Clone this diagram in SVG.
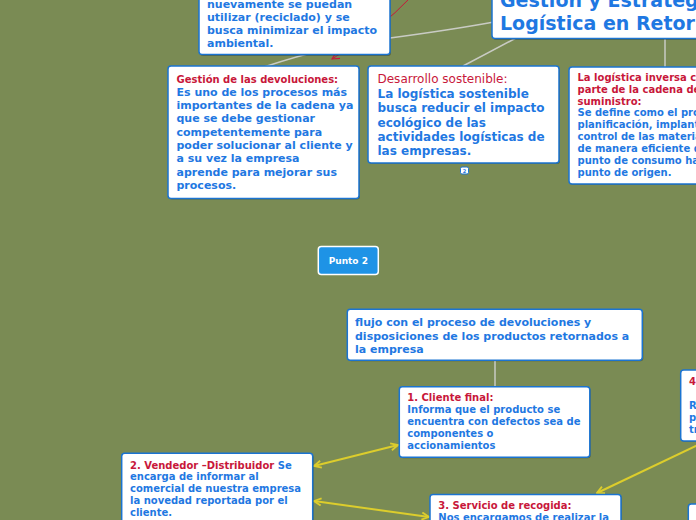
<svg xmlns="http://www.w3.org/2000/svg" width="696" height="520" viewBox="0 0 696 520">
<defs>
<style>
.bg{fill:#7a8b54}
.box{fill:#ffffff;stroke:#1b74d1;stroke-width:1.5}
.sh{fill:#000;opacity:.28}
.t{font-family:"DejaVu Sans",Verdana,sans-serif;font-weight:bold;font-size:11px;fill:#1f78e2}
.s{font-size:10px}
.r{fill:#c8173a}
.grey{fill:none;stroke:#c9cbc4;stroke-width:1.5}
.yel{fill:none;stroke:#dccd2c;stroke-width:2}
.red{fill:none;stroke:#c8173a;stroke-width:1}
</style>
<marker id="ay" viewBox="0 0 10 10" refX="9" refY="5" markerWidth="9" markerHeight="9" markerUnits="userSpaceOnUse" orient="auto-start-reverse">
<path d="M1,1 L9,5 L1,9" fill="none" stroke="#dccd2c" stroke-width="2"/>
</marker>
<marker id="ar" viewBox="0 0 10 10" refX="9" refY="5" markerWidth="9" markerHeight="9" markerUnits="userSpaceOnUse" orient="auto">
<path d="M1,1 L9,5 L1,9" fill="none" stroke="#c8173a" stroke-width="1.2"/>
</marker>
</defs>
<rect class="bg" x="0" y="0" width="696" height="520"/>

<g id="connectors">
<path class="grey" d="M264,67 Q330,45 390,38 Q450,30 494,22"/>
<path class="grey" d="M463,66 Q490,52 516,38"/>
<path class="grey" d="M665,38 L665,67"/>
<path class="grey" d="M495,361 L495,387"/>
<path class="red" d="M412,-4 Q380,30 332,59" marker-end="url(#ar)"/>
<path class="yel" d="M314,466 L398,445" marker-start="url(#ay)" marker-end="url(#ay)"/>
<path class="yel" d="M314,501 L429,517" marker-start="url(#ay)" marker-end="url(#ay)"/>
<path class="yel" d="M698,445 L597,493" marker-end="url(#ay)"/>
</g>

<g id="node-reciclado">
<rect class="sh" x="200" y="-10" width="191" height="66" rx="3"/>
<rect class="box" x="199" y="-11" width="191" height="65.5" rx="3"/>
<text class="t" x="207" y="8">nuevamente se puedan</text>
<text class="t" x="207" y="21">utilizar (reciclado) y se</text>
<text class="t" x="207" y="34">busca minimizar el impacto</text>
<text class="t" x="207" y="47">ambiental.</text>
</g>

<g id="node-title">
<rect class="sh" x="493" y="-10" width="210" height="50" rx="3"/>
<rect class="box" x="492" y="-11" width="210" height="49.5" rx="3"/>
<text class="t" x="500" y="7" style="font-size:19px">Gestión y Estrateg</text>
<text class="t" x="500" y="30" style="font-size:19px">Logística en Retorn</text>
</g>

<g id="node-gestion">
<rect class="sh" x="169" y="67" width="191" height="132.5" rx="3"/>
<rect class="box" x="168" y="66" width="191" height="132.5" rx="3"/>
<text class="t s r" x="176.5" y="82.5">Gestión de las devoluciones:</text>
<text class="t" x="176.5" y="95.8">Es uno de los procesos más</text>
<text class="t" x="176.5" y="109.1">importantes de la cadena ya</text>
<text class="t" x="176.5" y="122.4">que se debe gestionar</text>
<text class="t" x="176.5" y="135.7">competentemente para</text>
<text class="t" x="176.5" y="149">poder solucionar al cliente y</text>
<text class="t" x="176.5" y="162.3">a su vez la empresa</text>
<text class="t" x="176.5" y="175.6">aprende para mejorar sus</text>
<text class="t" x="176.5" y="188.9">procesos.</text>
</g>

<g id="node-desarrollo">
<rect class="sh" x="369" y="67" width="191" height="97" rx="3"/>
<rect class="box" x="368" y="66" width="191" height="97" rx="3"/>
<text class="t r" x="377.5" y="83.3" style="font-weight:normal;font-size:12px">Desarrollo sostenible:</text>
<text class="t" x="377.5" y="97.7" style="font-size:12px">La logística sostenible</text>
<text class="t" x="377.5" y="112.1" style="font-size:12px">busca reducir el impacto</text>
<text class="t" x="377.5" y="126.5" style="font-size:12px">ecológico de las</text>
<text class="t" x="377.5" y="140.9" style="font-size:12px">actividades logísticas de</text>
<text class="t" x="377.5" y="155.3" style="font-size:12px">las empresas.</text>
</g>

<g id="badge-2">
<rect x="460.5" y="167" width="8" height="7" rx="1.5" fill="#fff" stroke="#1b74d1" stroke-width="1"/>
<text x="464.5" y="172.6" text-anchor="middle" style="font-family:'DejaVu Sans',sans-serif;font-weight:bold;font-size:5px;fill:#1f78e2">2</text>
</g>

<g id="node-inversa">
<rect class="sh" x="570" y="68" width="140" height="117" rx="3"/>
<rect class="box" x="569" y="67" width="140" height="117" rx="3"/>
<text class="t s r" x="577.5" y="80.7">La logística inversa c</text>
<text class="t s r" x="577.5" y="92.6">parte de la cadena de</text>
<text class="t s r" x="577.5" y="104.5">suministro:</text>
<text class="t s" x="577.5" y="116.4">Se define como el pro</text>
<text class="t s" x="577.5" y="128.3">planificación, implant</text>
<text class="t s" x="577.5" y="140.2">control de las materia</text>
<text class="t s" x="577.5" y="152.1">de manera eficiente d</text>
<text class="t s" x="577.5" y="164">punto de consumo ha</text>
<text class="t s" x="577.5" y="175.9">punto de origen.</text>
</g>

<g id="node-punto2">
<rect x="318.3" y="246.5" width="60" height="28" rx="3" fill="#1e93e6" stroke="#ffffff" stroke-width="1.5"/>
<text x="348.3" y="264.3" text-anchor="middle" style="font-family:'DejaVu Sans',sans-serif;font-weight:bold;font-size:9px;fill:#ffffff">Punto 2</text>
</g>

<g id="node-flujo">
<rect class="sh" x="348.3" y="310.3" width="295" height="51" rx="3"/>
<rect class="box" x="347.3" y="309.3" width="295" height="51" rx="3"/>
<text class="t" x="355" y="326">flujo con el proceso de devoluciones y</text>
<text class="t" x="355" y="339.6">disposiciones de los productos retornados a</text>
<text class="t" x="355" y="353.2">la empresa</text>
</g>

<g id="node-cliente">
<rect class="sh" x="400.3" y="387.7" width="190.5" height="70.5" rx="3"/>
<rect class="box" x="399.3" y="386.7" width="190.5" height="70.5" rx="3"/>
<text class="t s r" x="407.3" y="400.7">1. Cliente final:</text>
<text class="t s" x="407.3" y="412.7">Informa que el producto se</text>
<text class="t s" x="407.3" y="424.7">encuentra con defectos sea de</text>
<text class="t s" x="407.3" y="436.7">componentes o</text>
<text class="t s" x="407.3" y="448.7">accionamientos</text>
</g>

<g id="node-vendedor">
<rect class="sh" x="122.7" y="454.3" width="191" height="80" rx="3"/>
<rect class="box" x="121.7" y="453.3" width="191" height="80" rx="3"/>
<text class="t s" x="130" y="468.5"><tspan class="r">2. Vendedor –Distribuidor</tspan> Se</text>
<text class="t s" x="130" y="480.4">encarga de informar al</text>
<text class="t s" x="130" y="492.3">comercial de nuestra empresa</text>
<text class="t s" x="130" y="504.2">la novedad reportada por el</text>
<text class="t s" x="130" y="516.1">cliente.</text>
</g>

<g id="node-recogida">
<rect class="sh" x="431" y="495.5" width="191" height="40" rx="3"/>
<rect class="box" x="430" y="494.5" width="191" height="40" rx="3"/>
<text class="t s r" x="438.3" y="509">3. Servicio de recogida:</text>
<text class="t s" x="438.3" y="521">Nos encargamos de realizar la</text>
</g>

<g id="node-4">
<rect class="sh" x="681.7" y="371" width="40" height="71" rx="3"/>
<rect class="box" x="680.7" y="370" width="40" height="71" rx="3"/>
<text class="t s r" x="689" y="385">4</text>
<text class="t s" x="689" y="409">R</text>
<text class="t s" x="689" y="421">p</text>
<text class="t s" x="689" y="433">tr</text>
</g>

<g id="node-5">
<rect class="sh" x="689.3" y="505" width="30" height="30" rx="3"/>
<rect class="box" x="688.3" y="504" width="30" height="30" rx="3"/>
</g>
</svg>
